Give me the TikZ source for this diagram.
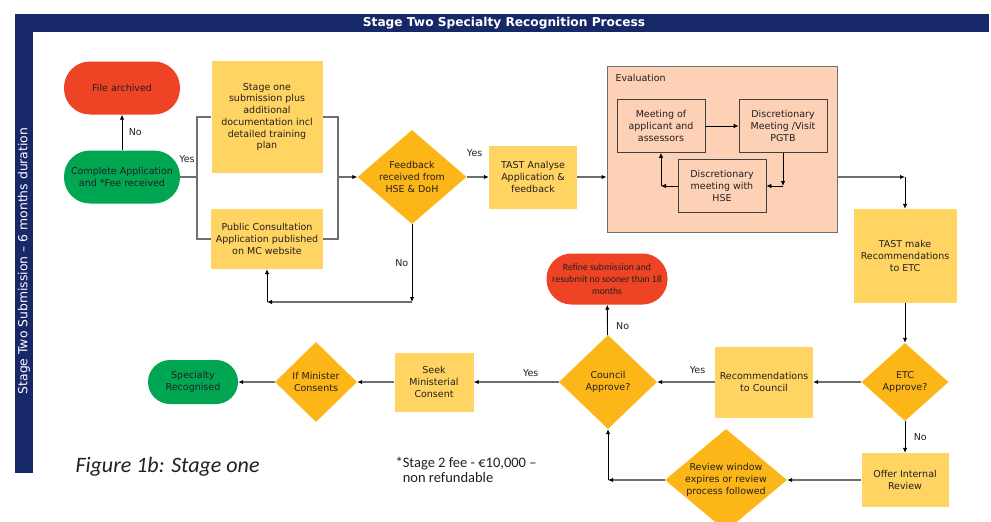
\documentclass[tikz,border=0pt]{standalone}
\usepackage{fontspec}
\setmainfont{DejaVu Sans}
\newfontfamily\calib{Carlito}
\usetikzlibrary{shapes.geometric,arrows.meta}

\definecolor{navy}{RGB}{22,40,104}
\definecolor{boxyellow}{RGB}{255,212,98}
\definecolor{dmdorange}{RGB}{252,182,24}
\definecolor{stopred}{RGB}{239,67,37}
\definecolor{gogreen}{RGB}{0,166,81}
\definecolor{peach}{RGB}{252,209,182}
\definecolor{linegray}{RGB}{110,111,114}
\definecolor{ink}{RGB}{35,31,32}

\tikzset{
  every node/.style={font=\fontsize{9.5}{11.7}\selectfont, text=ink, align=center},
  ybox/.style={shape=rectangle, fill=boxyellow, inner sep=2pt},
  dmd/.style={shape=diamond, fill=dmdorange, inner sep=0pt},
  stadium/.style={shape=rectangle, inner sep=2pt, rounded corners=#1},
  evalbox/.style={shape=rectangle, draw=linegray, line width=1pt, fill=peach},
  innerbox/.style={shape=rectangle, draw=black!75, line width=0.8pt, fill=peach, inner sep=2pt, minimum width=88pt, minimum height=53pt},
  grayline/.style={draw=linegray, line width=1.3pt},
  grayflow/.style={draw=linegray, line width=1.3pt, -{Latex[length=5pt,width=4.5pt,color=black]}},
  blackflow/.style={draw=black, line width=0.9pt, -{Latex[length=5pt,width=4.5pt]}}
}

\begin{document}
\begin{tikzpicture}[x=1pt,y=-1pt]
\useasboundingbox (0,0) rectangle (991,522);
\fill[white] (0,0) rectangle (991,522);

%%% frame
\fill[navy] (15,14) rectangle (989,32);
\fill[navy] (15,14) rectangle (33,473);
\node[font=\bfseries\fontsize{12.2}{14}\selectfont, text=white] (title) at (504,23) {Stage Two Specialty Recognition Process};
\node[rotate=90, font=\fontsize{12.4}{14}\selectfont, text=white] (duration) at (24,261) {Stage Two Submission – 6 months duration};

%%% application and consultation
\node[stadium=26pt, fill=stopred, minimum width=116pt, minimum height=53pt] (archived) at (122,88) {File archived};
\node[stadium=26pt, fill=gogreen, minimum width=116pt, minimum height=53pt] (complete) at (122,177) {Complete Application\\and *Fee received};
\node[ybox, minimum width=111pt, minimum height=112pt] (stageone) at (267,117) {Stage one\\submission plus\\additional\\documentation incl\\detailed training\\plan};
\node[ybox, minimum width=112pt, minimum height=60pt] (public) at (267,239) {Public Consultation\\Application published\\on MC website};
\node[dmd, minimum width=109pt, minimum height=94pt, shape aspect=1.15] (feedback) at (412,177) {Feedback\\received from\\HSE \& DoH};
\node[ybox, minimum width=88pt, minimum height=63pt] (tast) at (533,177) {TAST Analyse\\Application \&\\feedback};

%%% evaluation
\node[evalbox, minimum width=230pt, minimum height=166pt] (eval) at (722,149) {};
\node[anchor=west] (evaltitle) at (612,78) {Evaluation};
\node[innerbox] (meeting) at (661,126) {Meeting of\\applicant and\\assessors};
\node[innerbox] (pgtb) at (783,126) {Discretionary\\Meeting /Visit\\PGTB};
\node[innerbox] (hse) at (722,186) {Discretionary\\meeting with\\HSE};
\coordinate (pgtbturn) at (783,186);
\coordinate (hseturn) at (661,186);

%%% recommendations and approval
\node[ybox, minimum width=103pt, minimum height=94pt] (tastmake) at (905,256) {TAST make\\Recommendations\\to ETC};
\node[dmd, minimum width=87pt, minimum height=78pt] (etc) at (905,382) {ETC\\Approve?};
\node[ybox, minimum width=87pt, minimum height=54pt] (offer) at (905,480) {Offer Internal\\Review};
\node[dmd, minimum width=122pt, minimum height=102pt, shape aspect=1.2] (review) at (726,480) {Review window\\expires or review\\process followed};
\node[ybox, minimum width=98pt, minimum height=71pt] (recc) at (764,382) {Recommendations\\to Council};
\node[dmd, minimum width=98pt, minimum height=94pt] (council) at (608,382) {Council\\Approve?};
\node[stadium=25pt, fill=stopred, minimum width=121pt, minimum height=51pt, font=\calib\fontsize{9.7}{12}\selectfont] (refine) at (607,279) {Refine submission and\\resubmit no sooner than 18\\months};
\node[ybox, minimum width=79pt, minimum height=59pt] (seek) at (434,382) {Seek\\Ministerial\\Consent};
\node[dmd, minimum width=82pt, minimum height=80pt] (minister) at (316,382) {If Minister\\Consents};
\node[stadium=22pt, fill=gogreen, minimum width=90pt, minimum height=44pt] (specialty) at (193,382) {Specialty\\Recognised};

%%% notes
\node[anchor=west, font=\calib\itshape\fontsize{22}{26}\selectfont] (figcap) at (72,467) {Figure 1b: Stage one};
\node[anchor=west, align=left, font=\calib\fontsize{14.5}{15.5}\selectfont] (feenote) at (392,470) {*Stage 2 fee - €10,000 –\\\phantom{*}non refundable};

%%% connectors
\coordinate (splitL) at (197,177);
\coordinate (splitR) at (338,177);
\coordinate (fbturn) at (412,302);
\coordinate (pubturn) at (267,302);
\coordinate (evalturn) at (905,177);
\coordinate (reviewturn) at (608,480);

\draw[blackflow] (complete) -- (archived) node[midway, right=3pt] (lbno1) {No};
\draw[grayline] (complete) -- (splitL) node[pos=0.4, above=10pt] (lbyes1) {Yes};
\draw[grayline] (stageone.west) -| (splitL) |- (public.west);
\draw[grayline] (stageone.east) -| (splitR) |- (public.east);
\draw[grayflow] (splitR) -- (feedback);
\draw[grayflow] (feedback) -- (tast) node[pos=0.36, above=16pt] (lbyes2) {Yes};
\draw[grayflow] (tast) -- (tast -| eval.west);
\draw[blackflow] (feedback) -- (fbturn) node[midway, left=0pt] (lbno2) {No};
\draw[grayflow] (fbturn) -- (pubturn);
\draw[blackflow] (pubturn) -- (public);

\draw[blackflow, line width=0.8pt] (meeting) -- (pgtb);
\draw[blackflow, line width=0.8pt] (pgtb) -- (pgtbturn);
\draw[blackflow, line width=0.8pt] (pgtbturn) -- (hse);
\draw[blackflow, line width=0.8pt] (hse) -- (hseturn);
\draw[blackflow, line width=0.8pt] (hseturn) -- (meeting);

\draw[grayflow] (eval.east |- evalturn) -- (evalturn);
\draw[blackflow] (evalturn) -- (tastmake);
\draw[blackflow] (tastmake) -- (etc);
\draw[blackflow] (etc) -- (offer) node[midway, right=5pt] (lbno3) {No};
\draw[grayflow] (etc) -- (recc);
\draw[grayflow] (recc) -- (council) node[pos=0.3, above=4pt] (lbyes3) {Yes};
\draw[blackflow] (council) -- (refine) node[pos=0.3, right=5pt] (lbno4) {No};
\draw[grayflow] (council) -- (seek) node[pos=0.33, above=1pt] (lbyes4) {Yes};
\draw[grayflow] (seek) -- (minister);
\draw[grayflow] (minister) -- (specialty);
\draw[grayflow] (offer) -- (review);
\draw[grayflow] (review) -- (reviewturn);
\draw[blackflow] (reviewturn) -- (council);

\end{tikzpicture}
\end{document}
